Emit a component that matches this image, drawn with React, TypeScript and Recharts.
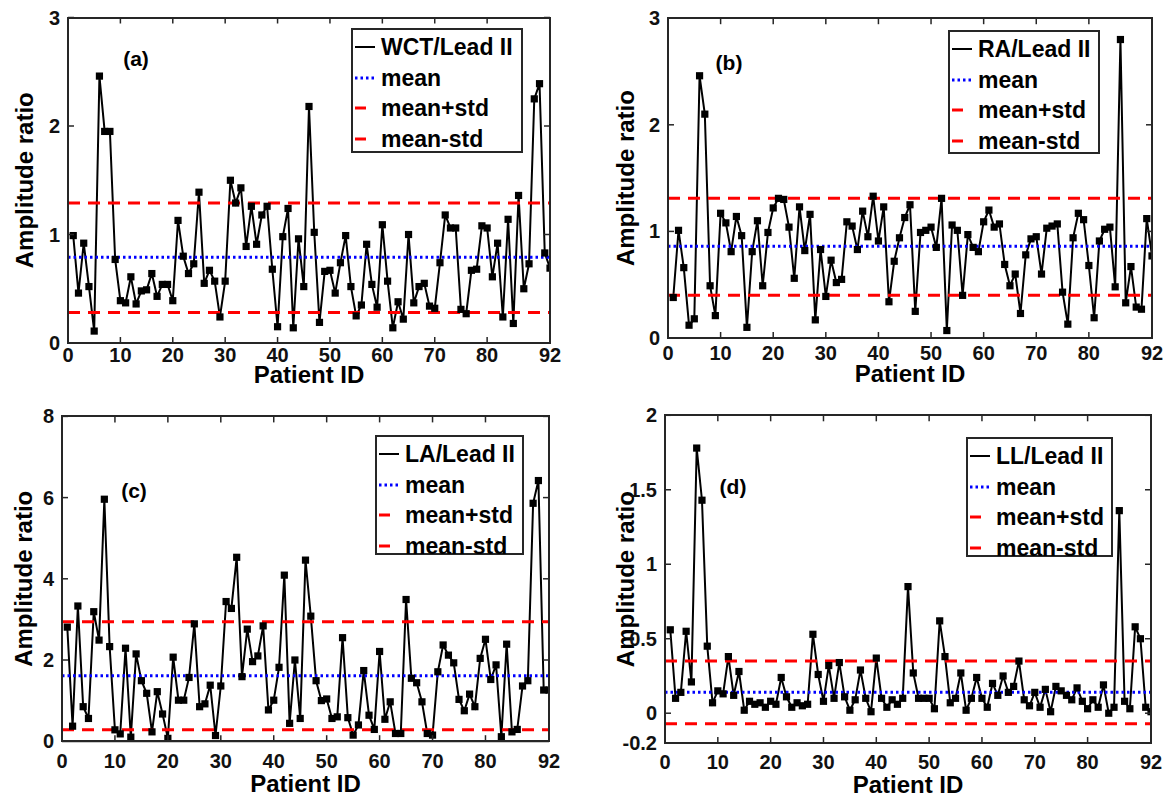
import React from 'react';
import { LineChart, Line, XAxis, YAxis, ReferenceLine, Legend } from 'recharts';

// ---------- data ----------
const patientIds: number[] = Array.from({ length: 92 }, (_, i) => i + 1);
const xTicks = [0, 10, 20, 30, 40, 50, 60, 70, 80, 92];

const wctLeadII = [
  0.99, 0.46, 0.92, 0.52, 0.11, 2.46, 1.95, 1.95, 0.77, 0.39,
  0.37, 0.61, 0.36, 0.48, 0.49, 0.64, 0.43, 0.54, 0.54, 0.39,
  1.13, 0.8, 0.64, 0.73, 1.39, 0.55, 0.67, 0.57, 0.24, 0.57,
  1.5, 1.29, 1.43, 0.89, 1.26, 0.91, 1.18, 1.26, 0.68, 0.15,
  0.98, 1.24, 0.14, 0.96, 0.52, 2.18, 1.02, 0.19, 0.66, 0.67,
  0.46, 0.74, 0.99, 0.52, 0.25, 0.35, 0.91, 0.54, 0.33, 1.09,
  0.57, 0.14, 0.38, 0.22, 1.0, 0.37, 0.52, 0.55, 0.34, 0.32,
  0.74, 1.18, 1.06, 1.06, 0.31, 0.27, 0.67, 0.68, 1.08, 1.06,
  0.61, 0.92, 0.24, 1.14, 0.18, 1.36, 0.5, 0.73, 2.25, 2.39,
  0.83, 0.69,
];
const raLeadII = [
  0.38, 1.01, 0.66, 0.12, 0.18, 2.46, 2.1, 0.49, 0.21, 1.17,
  1.08, 0.81, 1.14, 0.96, 0.1, 0.81, 1.1, 0.49, 0.99, 1.22,
  1.31, 1.3, 1.04, 0.56, 1.23, 0.82, 1.16, 0.17, 0.83, 0.39,
  0.73, 0.52, 0.55, 1.09, 1.05, 0.83, 1.19, 0.95, 1.33, 0.91,
  1.23, 0.34, 0.72, 0.94, 1.13, 1.25, 0.25, 0.99, 1.01, 1.04,
  0.85, 1.31, 0.07, 1.06, 1.01, 0.4, 0.97, 0.85, 0.81, 1.09,
  1.2, 1.04, 1.07, 0.69, 0.49, 0.6, 0.23, 0.78, 0.93, 0.95,
  0.6, 1.03, 1.05, 1.07, 0.43, 0.13, 0.94, 1.17, 1.11, 0.68,
  0.19, 0.91, 1.02, 1.04, 0.48, 2.8, 0.33, 0.67, 0.29, 0.27,
  1.12, 0.77,
];
const laLeadII = [
  2.81, 0.37, 3.33, 0.85, 0.56, 3.19, 2.49, 5.96, 2.33, 0.28,
  0.18, 2.29, 0.1, 2.15, 1.49, 1.18, 0.23, 1.22, 0.67, 0.07,
  2.07, 1.01, 1.01, 1.57, 2.89, 0.85, 0.92, 1.38, 0.14, 1.36,
  3.44, 3.27, 4.53, 1.59, 2.76, 1.96, 2.1, 2.84, 0.77, 1.01,
  1.82, 4.09, 0.44, 2.0, 0.56, 4.46, 3.08, 1.49, 1.0, 1.04,
  0.56, 0.6, 2.55, 0.58, 0.15, 0.4, 1.74, 0.64, 0.29, 2.21,
  0.54, 0.97, 0.19, 0.19, 3.49, 1.55, 1.44, 0.97, 0.19, 0.15,
  1.71, 2.37, 2.12, 1.93, 1.03, 0.75, 1.16, 0.85, 2.04, 2.51,
  1.52, 1.88, 0.11, 2.39, 0.23, 0.29, 1.36, 1.49, 5.86, 6.42,
  1.26, 1.26,
];
const llLeadII = [
  0.56, 0.1, 0.14, 0.55, 0.21, 1.78, 1.43, 0.45, 0.07, 0.15,
  0.13, 0.38, 0.12, 0.28, 0.02, 0.08, 0.06, 0.07, 0.04, 0.08,
  0.06, 0.24, 0.11, 0.04, 0.07, 0.05, 0.06, 0.53, 0.26, 0.08,
  0.32, 0.1, 0.34, 0.11, 0.02, 0.09, 0.29, 0.1, 0.01, 0.37,
  0.1, 0.04, 0.09, 0.06, 0.1, 0.85, 0.27, 0.1, 0.1, 0.1,
  0.03, 0.62, 0.38, 0.07, 0.1, 0.27, 0.02, 0.1, 0.24, 0.1,
  0.04, 0.2, 0.12, 0.25, 0.14, 0.18, 0.35, 0.09, 0.05, 0.14,
  0.04, 0.16, 0.01, 0.18, 0.15, 0.12, 0.09, 0.17, 0.08, 0.03,
  0.09, 0.04, 0.19, 0.0, 0.04, 1.36, 0.08, 0.03, 0.58, 0.5,
  0.04, 0.01,
];

// [mean, mean+std, mean-std]
const wctStats = [0.79, 1.29, 0.28];
const raStats = [0.86, 1.31, 0.4];
const laStats = [1.61, 2.94, 0.28];
const llStats = [0.14, 0.35, -0.07];

const ticksAB = [0, 1, 2, 3];
const ticksC = [0, 2, 4, 6, 8];
const ticksD = [-0.2, 0, 0.5, 1, 1.5, 2];

const statLabels = ['mean', 'mean+std', 'mean-std'];

// ---------- styling ----------
const FONT = '"Liberation Sans", Arial, Helvetica, sans-serif';
const AXIS = '#262626';
const TICK_LEN = 6;
const TICK_FS = 20;
const LABEL_FS = 24;
const LEGEND_FS = 23;
const MEAN_DASH = '2.5 3';
const STD_DASH = '12 8';

type Rect = { left: number; top: number; width: number; height: number };
type PanelSpec = {
  values: number[];
  stats: number[];
  yDomain: [number, number];
  yTicks: number[];
  name: string;
  letter: string;
  box: Rect;
  plot: { l: number; r: number; t: number; b: number };
  yLabelX: number;
  tickDy: number;
  labelDy: number;
  letterPos: [number, number];
  legend: Rect;
};

const SquareDot = (props: any) => {
  const { cx, cy, index } = props;
  if (cx == null || cy == null) return <g key={index} />;
  return <rect key={index} x={cx - 3.6} y={cy - 3.6} width={7.2} height={7.2} fill="#000" />;
};

function Panel({ spec }: { spec: PanelSpec }) {
  const { box, plot } = spec;
  const data = patientIds.map((id, i) => ({ id, v: spec.values[i] }));
  const yAxisW = 40;
  const xAxisH = 30;
  const plotW = plot.r - plot.l;
  const plotH = plot.b - plot.t;
  const margin = {
    left: plot.l - box.left - yAxisW,
    right: box.left + box.width - plot.r,
    top: plot.t - box.top,
    bottom: box.top + box.height - plot.b - xAxisH,
  };

  // bottom tick: inward tick on bottom axis + mirrored inward tick on top edge + label
  const bottomTick = (p: any) => {
    const { x, y, payload } = p;
    return (
      <g>
        <line x1={x} x2={x} y1={y} y2={y - TICK_LEN} stroke={AXIS} strokeWidth={1.5} />
        <line x1={x} x2={x} y1={y - plotH} y2={y - plotH + TICK_LEN} stroke={AXIS} strokeWidth={1.5} />
        <text x={x} y={y + spec.tickDy} textAnchor="middle" dominantBaseline="central"
          fontFamily={FONT} fontWeight="bold" fontSize={TICK_FS} fill="#111">{payload.value}</text>
      </g>
    );
  };
  // left tick: inward tick on left axis + mirrored inward tick on right edge + label
  const leftTick = (p: any) => {
    const { x, y, payload } = p;
    return (
      <g>
        <line x1={x} x2={x + TICK_LEN} y1={y} y2={y} stroke={AXIS} strokeWidth={1.5} />
        <line x1={x + plotW} x2={x + plotW - TICK_LEN} y1={y} y2={y} stroke={AXIS} strokeWidth={1.5} />
        <text x={x - 8} y={y} textAnchor="end" dominantBaseline="central"
          fontFamily={FONT} fontWeight="bold" fontSize={TICK_FS} fill="#111">{payload.value}</text>
      </g>
    );
  };

  const yLabel = () => {
    const lx = spec.yLabelX - box.left;
    const ly = (plot.t + plot.b) / 2 - box.top;
    return (
      <text x={lx} y={ly} transform={`rotate(-90 ${lx} ${ly})`} textAnchor="middle" dominantBaseline="central"
        fontFamily={FONT} fontWeight="bold" fontSize={LABEL_FS} fill="#000">Amplitude ratio</text>
    );
  };
  const xLabel = () => {
    const lx = (plot.l + plot.r) / 2 - box.left;
    const ly = plot.b + spec.labelDy - box.top;
    return (
      <g>
        <text x={lx} y={ly} textAnchor="middle" dominantBaseline="central"
          fontFamily={FONT} fontWeight="bold" fontSize={LABEL_FS} fill="#000">Patient ID</text>
        <text x={spec.letterPos[0] - box.left} y={spec.letterPos[1] - box.top} textAnchor="middle" dominantBaseline="central"
          fontFamily={FONT} fontWeight="bold" fontSize={21} fill="#000">{spec.letter}</text>
      </g>
    );
  };

  const legendRows = [
    { label: spec.name, color: '#000', dash: undefined as string | undefined, w: 2, len: 20 },
    { label: statLabels[0], color: '#0000ff', dash: MEAN_DASH, w: 3, len: 20 },
    { label: statLabels[1], color: '#ff0000', dash: undefined, w: 3, len: 11 },
    { label: statLabels[2], color: '#ff0000', dash: undefined, w: 3, len: 11 },
  ];
  const renderLegend = () => (
    <div
      style={{
        boxSizing: 'border-box',
        width: spec.legend.width,
        height: spec.legend.height,
        border: `2px solid ${AXIS}`,
        background: '#fff',
        fontFamily: FONT,
        fontWeight: 'bold',
        fontSize: LEGEND_FS,
        color: '#000',
        paddingTop: 2,
      }}
    >
      {legendRows.map((r, i) => (
        <div key={i} style={{ display: 'flex', alignItems: 'center', height: 30.5, lineHeight: '30px' }}>
          <svg width={26} height={6} style={{ display: 'block', flex: 'none' }}>
            <line x1={2} x2={2 + r.len} y1={3} y2={3} stroke={r.color} strokeWidth={r.w} strokeDasharray={r.dash} />
          </svg>
          <span style={{ whiteSpace: 'nowrap', marginLeft: 2 }}>{r.label}</span>
        </div>
      ))}
    </div>
  );

  return (
    <div style={{ position: 'absolute', left: box.left, top: box.top, width: box.width, height: box.height }}>
      <LineChart width={box.width} height={box.height} data={data} margin={margin}>
        <XAxis
          dataKey="id"
          type="number"
          domain={[0, 92]}
          ticks={xTicks}
          interval={0}
          height={xAxisH}
          tickSize={0}
          tickMargin={0}
          tick={bottomTick}
          tickLine={false}
          axisLine={{ stroke: AXIS, strokeWidth: 2 }}
          allowDataOverflow
          label={xLabel}
        />
        <YAxis
          type="number"
          domain={spec.yDomain}
          ticks={spec.yTicks}
          interval={0}
          width={yAxisW}
          tickSize={0}
          tickMargin={0}
          tick={leftTick}
          tickLine={false}
          axisLine={{ stroke: AXIS, strokeWidth: 2 }}
          allowDataOverflow
          label={yLabel}
        />
        <Line
          dataKey="v"
          name={spec.name}
          stroke="#000"
          strokeWidth={2}
          dot={SquareDot}
          activeDot={false}
          isAnimationActive={false}
        />
        <ReferenceLine y={spec.stats[0]} stroke="#0000ff" strokeWidth={3} strokeDasharray={MEAN_DASH} />
        <ReferenceLine y={spec.stats[1]} stroke="#ff0000" strokeWidth={3} strokeDasharray={STD_DASH} />
        <ReferenceLine y={spec.stats[2]} stroke="#ff0000" strokeWidth={3} strokeDasharray={STD_DASH} />
        <Legend
          layout="vertical"
          align="center"
          verticalAlign="middle"
          content={renderLegend}
          wrapperStyle={{
            left: spec.legend.left - box.left,
            top: spec.legend.top - box.top,
            width: spec.legend.width,
            height: spec.legend.height,
          }}
        />
      </LineChart>
      {/* axes box frame (top/right edges of the MATLAB-style box) */}
      <div
        style={{
          position: 'absolute',
          left: plot.l - box.left - 1,
          top: plot.t - box.top - 1,
          width: plotW - 2,
          height: plotH - 2,
          border: `2px solid ${AXIS}`,
          pointerEvents: 'none',
        }}
      />
    </div>
  );
}

const panels: PanelSpec[] = [
  {
    values: wctLeadII, stats: wctStats, yDomain: [0, 3], yTicks: ticksAB, name: 'WCT/Lead II', letter: '(a)',
    box: { left: 0, top: 0, width: 585, height: 400 },
    plot: { l: 68, r: 550, t: 17.5, b: 343 },
    yLabelX: 24, tickDy: 12, labelDy: 31, letterPos: [136, 58],
    legend: { left: 351, top: 28, width: 172, height: 125 },
  },
  {
    values: raLeadII, stats: raStats, yDomain: [0, 3], yTicks: ticksAB, name: 'RA/Lead II', letter: '(b)',
    box: { left: 585, top: 0, width: 586, height: 400 },
    plot: { l: 668, r: 1152, t: 18.2, b: 338 },
    yLabelX: 626, tickDy: 15, labelDy: 35, letterPos: [729, 62],
    legend: { left: 948, top: 30, width: 152, height: 124 },
  },
  {
    values: laLeadII, stats: laStats, yDomain: [0, 8], yTicks: ticksC, name: 'LA/Lead II', letter: '(c)',
    box: { left: 0, top: 400, width: 585, height: 399 },
    plot: { l: 62, r: 549, t: 416.4, b: 741.2 },
    yLabelX: 24, tickDy: 20, labelDy: 42, letterPos: [134, 490],
    legend: { left: 375, top: 435, width: 149, height: 120 },
  },
  {
    values: llLeadII, stats: llStats, yDomain: [-0.2, 2], yTicks: ticksD, name: 'LL/Lead II', letter: '(d)',
    box: { left: 585, top: 400, width: 586, height: 399 },
    plot: { l: 665, r: 1151, t: 415.3, b: 743 },
    yLabelX: 626, tickDy: 19, labelDy: 41, letterPos: [733, 486],
    legend: { left: 966, top: 437, width: 147, height: 120 },
  },
];

export default function App() {
  return (
    <div style={{ position: 'absolute', left: 0, top: 0, width: 1171, height: 799, background: '#fff', overflow: 'hidden' }}>
      {panels.map((p, i) => (
        <Panel key={i} spec={p} />
      ))}
    </div>
  );
}
